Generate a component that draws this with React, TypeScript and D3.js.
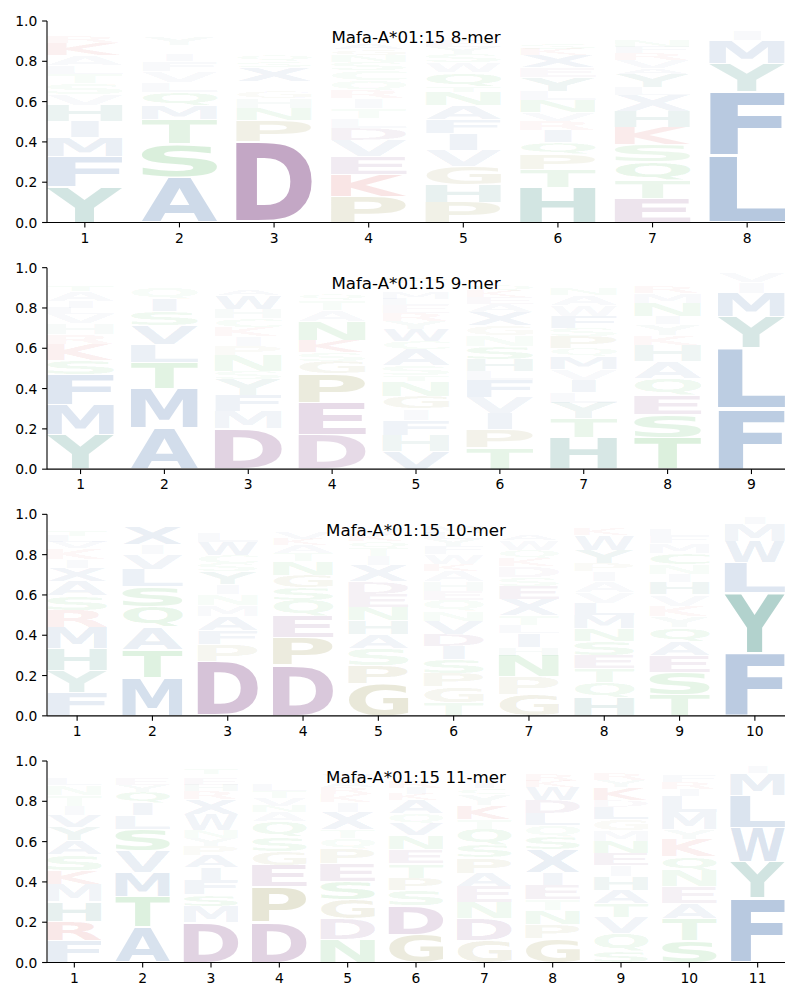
import React, { useMemo } from 'react';
import * as d3 from 'd3';

type Column = [string, number][];

// letter probabilities per position, stacked bottom -> top
const mer8: Column[] = [
  [['Y', 0.178], ['F', 0.15], ['M', 0.095], ['I', 0.08], ['H', 0.08], ['V', 0.055], ['S', 0.055], ['T', 0.045], ['L', 0.04], ['A', 0.05], ['K', 0.06], ['R', 0.03], ['W', 0.025], ['E', 0.02], ['Q', 0.02], ['C', 0.015]],
  [['A', 0.225], ['S', 0.165], ['T', 0.12], ['M', 0.07], ['Q', 0.065], ['L', 0.05], ['V', 0.055], ['F', 0.05], ['I', 0.03], ['E', 0.025], ['N', 0.025], ['Y', 0.04], ['G', 0.02], ['K', 0.02], ['W', 0.02], ['C', 0.015]],
  [['D', 0.4], ['P', 0.105], ['N', 0.06], ['H', 0.05], ['G', 0.035], ['E', 0.025], ['K', 0.025], ['X', 0.07], ['S', 0.03], ['Q', 0.03], ['A', 0.025], ['V', 0.025], ['T', 0.025], ['Y', 0.025], ['W', 0.02], ['C', 0.02], ['F', 0.015], ['M', 0.015]],
  [['P', 0.13], ['K', 0.11], ['E', 0.09], ['V', 0.08], ['D', 0.06], ['L', 0.045], ['T', 0.05], ['I', 0.05], ['R', 0.04], ['Q', 0.05], ['C', 0.05], ['S', 0.04], ['N', 0.035], ['G', 0.03], ['A', 0.03], ['H', 0.025], ['Y', 0.02], ['W', 0.015], ['M', 0.02], ['F', 0.015]],
  [['P', 0.1], ['H', 0.09], ['G', 0.09], ['V', 0.08], ['I', 0.08], ['F', 0.07], ['A', 0.07], ['N', 0.065], ['T', 0.03], ['Q', 0.07], ['W', 0.05], ['S', 0.04], ['Y', 0.035], ['E', 0.03], ['K', 0.025], ['D', 0.025], ['L', 0.02], ['M', 0.02]],
  [['H', 0.175], ['T', 0.09], ['P', 0.075], ['Q', 0.06], ['I', 0.06], ['R', 0.045], ['V', 0.04], ['N', 0.06], ['L', 0.045], ['Y', 0.07], ['E', 0.05], ['X', 0.06], ['K', 0.03], ['S', 0.03], ['A', 0.025], ['W', 0.02], ['M', 0.02], ['G', 0.02], ['F', 0.015]],
  [['E', 0.12], ['T', 0.09], ['Q', 0.09], ['S', 0.085], ['K', 0.085], ['H', 0.08], ['X', 0.08], ['L', 0.04], ['Y', 0.065], ['A', 0.03], ['V', 0.04], ['R', 0.035], ['F', 0.03], ['N', 0.03], ['D', 0.025], ['M', 0.025], ['G', 0.02], ['W', 0.015]],
  [['L', 0.33], ['F', 0.32], ['Y', 0.14], ['M', 0.115], ['I', 0.05], ['W', 0.025], ['V', 0.015]],
];

const mer9: Column[] = [
  [['Y', 0.17], ['M', 0.15], ['F', 0.15], ['S', 0.07], ['K', 0.08], ['R', 0.05], ['H', 0.055], ['V', 0.045], ['L', 0.03], ['I', 0.035], ['A', 0.05], ['T', 0.03], ['W', 0.025], ['Q', 0.02], ['E', 0.02], ['N', 0.015]],
  [['A', 0.205], ['M', 0.195], ['T', 0.13], ['L', 0.09], ['V', 0.095], ['S', 0.07], ['I', 0.06], ['Q', 0.055], ['F', 0.025], ['Y', 0.02], ['E', 0.02], ['K', 0.015], ['R', 0.015]],
  [['D', 0.2], ['M', 0.085], ['F', 0.08], ['Y', 0.08], ['S', 0.04], ['N', 0.08], ['P', 0.045], ['I', 0.05], ['K', 0.045], ['C', 0.045], ['H', 0.045], ['W', 0.07], ['A', 0.03], ['E', 0.025], ['T', 0.025], ['L', 0.02], ['V', 0.02], ['G', 0.015]],
  [['D', 0.17], ['E', 0.16], ['P', 0.145], ['G', 0.06], ['S', 0.045], ['K', 0.06], ['N', 0.095], ['A', 0.055], ['T', 0.05], ['Q', 0.03], ['R', 0.025], ['V', 0.025], ['H', 0.02], ['L', 0.02], ['Y', 0.015], ['M', 0.015]],
  [['V', 0.09], ['H', 0.08], ['F', 0.075], ['I', 0.055], ['G', 0.06], ['N', 0.075], ['T', 0.03], ['S', 0.05], ['A', 0.08], ['C', 0.04], ['W', 0.06], ['Y', 0.04], ['R', 0.04], ['E', 0.04], ['L', 0.03], ['M', 0.03], ['Q', 0.025], ['D', 0.025], ['P', 0.03], ['K', 0.025]],
  [['T', 0.105], ['P', 0.09], ['I', 0.08], ['V', 0.08], ['F', 0.085], ['L', 0.045], ['H', 0.06], ['S', 0.063], ['N', 0.055], ['G', 0.05], ['X', 0.066], ['A', 0.04], ['E', 0.035], ['K', 0.03], ['Q', 0.03], ['Y', 0.025], ['R', 0.02], ['M', 0.02], ['W', 0.015]],
  [['H', 0.155], ['T', 0.095], ['Y', 0.078], ['L', 0.055], ['I', 0.06], ['V', 0.055], ['M', 0.06], ['Q', 0.04], ['P', 0.06], ['S', 0.04], ['F', 0.06], ['W', 0.055], ['A', 0.05], ['N', 0.03], ['E', 0.025], ['K', 0.025], ['R', 0.015], ['G', 0.015], ['C', 0.02]],
  [['T', 0.155], ['S', 0.115], ['E', 0.095], ['Q', 0.085], ['A', 0.085], ['H', 0.08], ['K', 0.05], ['Y', 0.055], ['I', 0.04], ['N', 0.065], ['M', 0.05], ['R', 0.03], ['W', 0.025], ['V', 0.025], ['L', 0.02], ['F', 0.02]],
  [['F', 0.3], ['L', 0.3], ['Y', 0.155], ['M', 0.12], ['I', 0.055], ['V', 0.045]],
];

const mer10: Column[] = [
  [['F', 0.115], ['Y', 0.11], ['H', 0.11], ['M', 0.105], ['R', 0.085], ['S', 0.07], ['A', 0.072], ['X', 0.068], ['I', 0.04], ['K', 0.055], ['V', 0.03], ['L', 0.03], ['T', 0.03], ['N', 0.025], ['Q', 0.02], ['E', 0.02], ['W', 0.015]],
  [['M', 0.19], ['T', 0.14], ['A', 0.11], ['Q', 0.1], ['S', 0.1], ['L', 0.085], ['V', 0.075], ['I', 0.05], ['X', 0.09], ['E', 0.02], ['R', 0.015], ['K', 0.015]],
  [['D', 0.27], ['P', 0.085], ['F', 0.07], ['A', 0.07], ['M', 0.055], ['N', 0.055], ['I', 0.05], ['Y', 0.06], ['S', 0.04], ['C', 0.04], ['W', 0.065], ['L', 0.05], ['E', 0.025], ['K', 0.02], ['G', 0.02], ['T', 0.015]],
  [['D', 0.25], ['P', 0.14], ['E', 0.105], ['Q', 0.08], ['S', 0.06], ['G', 0.06], ['N', 0.07], ['T', 0.04], ['A', 0.04], ['K', 0.03], ['V', 0.03], ['H', 0.025], ['R', 0.02], ['L', 0.02], ['Y', 0.015], ['M', 0.015]],
  [['G', 0.16], ['P', 0.09], ['S', 0.085], ['A', 0.07], ['H', 0.07], ['N', 0.065], ['E', 0.065], ['D', 0.063], ['X', 0.08], ['I', 0.045], ['T', 0.04], ['Q', 0.035], ['K', 0.03], ['V', 0.03], ['L', 0.025], ['R', 0.02], ['F', 0.02]],
  [['T', 0.065], ['G', 0.08], ['P', 0.065], ['S', 0.07], ['I', 0.065], ['D', 0.06], ['V', 0.065], ['N', 0.05], ['Q', 0.055], ['E', 0.045], ['H', 0.045], ['A', 0.053], ['K', 0.035], ['W', 0.05], ['F', 0.04], ['Y', 0.035], ['L', 0.03], ['M', 0.03], ['R', 0.025], ['C', 0.02], ['X', 0.015]],
  [['G', 0.105], ['P', 0.088], ['N', 0.105], ['H', 0.04], ['I', 0.07], ['L', 0.04], ['T', 0.05], ['X', 0.08], ['E', 0.065], ['S', 0.045], ['D', 0.055], ['K', 0.04], ['Q', 0.04], ['W', 0.05], ['A', 0.03], ['V', 0.025], ['Y', 0.02], ['R', 0.02], ['F', 0.015], ['M', 0.015]],
  [['H', 0.09], ['Q', 0.075], ['T', 0.07], ['E', 0.065], ['S', 0.07], ['N', 0.062], ['M', 0.067], ['L', 0.06], ['V', 0.055], ['A', 0.055], ['I', 0.047], ['P', 0.04], ['Y', 0.065], ['W', 0.075], ['K', 0.035], ['R', 0.025], ['F', 0.02], ['G', 0.02]],
  [['T', 0.105], ['S', 0.11], ['E', 0.083], ['A', 0.07], ['Q', 0.07], ['Y', 0.055], ['K', 0.053], ['V', 0.055], ['H', 0.06], ['I', 0.04], ['N', 0.05], ['C', 0.058], ['M', 0.05], ['F', 0.035], ['L', 0.03], ['R', 0.025], ['W', 0.02], ['G', 0.02], ['D', 0.015]],
  [['F', 0.31], ['Y', 0.3], ['L', 0.15], ['W', 0.105], ['M', 0.085], ['I', 0.03]],
];

const mer11: Column[] = [
  [['F', 0.11], ['R', 0.095], ['H', 0.097], ['M', 0.086], ['K', 0.07], ['S', 0.08], ['A', 0.07], ['Y', 0.064], ['V', 0.058], ['I', 0.045], ['T', 0.055], ['N', 0.05], ['L', 0.03], ['Q', 0.025], ['E', 0.02], ['G', 0.02], ['C', 0.015]],
  [['A', 0.175], ['T', 0.15], ['M', 0.12], ['V', 0.108], ['S', 0.108], ['L', 0.07], ['I', 0.058], ['Q', 0.058], ['Y', 0.035], ['E', 0.03], ['R', 0.025], ['K', 0.025], ['N', 0.02], ['F', 0.02]],
  [['D', 0.2], ['M', 0.08], ['S', 0.057], ['F', 0.073], ['I', 0.06], ['A', 0.06], ['P', 0.046], ['Y', 0.042], ['N', 0.037], ['W', 0.08], ['X', 0.075], ['R', 0.04], ['H', 0.03], ['E', 0.03], ['K', 0.025], ['T', 0.03], ['Q', 0.025]],
  [['D', 0.2], ['P', 0.175], ['E', 0.108], ['G', 0.068], ['S', 0.07], ['Q', 0.078], ['A', 0.045], ['N', 0.033], ['V', 0.04], ['T', 0.035], ['L', 0.03], ['K', 0.025], ['H', 0.025], ['Y', 0.02], ['R', 0.02], ['M', 0.015]],
  [['N', 0.113], ['D', 0.103], ['G', 0.095], ['S', 0.09], ['E', 0.088], ['P', 0.075], ['Q', 0.053], ['T', 0.043], ['X', 0.088], ['I', 0.05], ['K', 0.04], ['R', 0.03], ['A', 0.03], ['V', 0.03], ['L', 0.025], ['H', 0.02], ['F', 0.015]],
  [['G', 0.14], ['D', 0.14], ['S', 0.08], ['P', 0.06], ['T', 0.07], ['E', 0.07], ['N', 0.07], ['V', 0.06], ['Q', 0.05], ['A', 0.065], ['K', 0.03], ['I', 0.03], ['R', 0.03], ['L', 0.02], ['Y', 0.02], ['M', 0.02], ['W', 0.015]],
  [['G', 0.11], ['D', 0.11], ['N', 0.078], ['E', 0.078], ['A', 0.066], ['P', 0.078], ['S', 0.063], ['Q', 0.08], ['T', 0.046], ['K', 0.07], ['Y', 0.055], ['C', 0.03], ['I', 0.03], ['H', 0.025], ['V', 0.025], ['L', 0.02], ['R', 0.02], ['F', 0.015]],
  [['G', 0.12], ['P', 0.07], ['N', 0.07], ['T', 0.053], ['E', 0.071], ['I', 0.063], ['X', 0.115], ['S', 0.063], ['Q', 0.055], ['L', 0.06], ['D', 0.065], ['W', 0.065], ['K', 0.03], ['R', 0.03], ['Y', 0.025], ['A', 0.02], ['H', 0.015]],
  [['S', 0.058], ['Q', 0.088], ['V', 0.078], ['T', 0.07], ['A', 0.066], ['H', 0.066], ['I', 0.056], ['E', 0.061], ['N', 0.058], ['M', 0.055], ['G', 0.053], ['L', 0.063], ['D', 0.033], ['K', 0.063], ['Y', 0.035], ['R', 0.03], ['P', 0.025], ['F', 0.02], ['W', 0.015]],
  [['S', 0.108], ['T', 0.108], ['A', 0.078], ['E', 0.083], ['N', 0.078], ['Q', 0.07], ['K', 0.088], ['Y', 0.046], ['M', 0.085], ['L', 0.08], ['I', 0.035], ['R', 0.035], ['F', 0.03], ['W', 0.025], ['H', 0.025], ['D', 0.02]],
  [['F', 0.32], ['Y', 0.18], ['W', 0.17], ['L', 0.16], ['M', 0.11], ['I', 0.03]],
];

const titles = ['Mafa-A*01:15 8-mer', 'Mafa-A*01:15 9-mer', 'Mafa-A*01:15 10-mer', 'Mafa-A*01:15 11-mer'];
const panels = [mer8, mer9, mer10, mer11];
const yTicks = [0, 0.2, 0.4, 0.6, 0.8, 1.0];

const colorGroups: [string, string][] = [
  ['DE', '#69226e'],
  ['KR', '#c81414'],
  ['AVLIMFWX', '#22589e'],
  ['YH', '#00695a'],
  ['STNQC', '#1ea028'],
  ['PG', '#787314'],
];
const colorOf = (ch: string) => (colorGroups.find(g => g[0].includes(ch)) || ['', '#888'])[1];

const FONT = '"DejaVu Sans", Verdana, sans-serif';
const AX_LEFT = 47, AX_RIGHT = 785;
const AX_TOP0 = 21, AX_STEP = 246.67, AX_H = 201.5;
const VPAD = 0.05;

type Box = { l: number; r: number; a: number; d: number };

function measureGlyphs(): Record<string, Box> {
  const ctx = document.createElement('canvas').getContext('2d')!;
  ctx.font = `bold 100px ${FONT}`;
  const out: Record<string, Box> = {};
  for (const ch of 'ACDEFGHIKLMNPQRSTVWXY') {
    const m = ctx.measureText(ch);
    out[ch] = { l: m.actualBoundingBoxLeft, r: m.actualBoundingBoxRight, a: m.actualBoundingBoxAscent, d: m.actualBoundingBoxDescent };
  }
  return out;
}

function Panel({ cols, title, top, glyphs }: { cols: Column[]; title: string; top: number; glyphs: Record<string, Box> }) {
  const n = cols.length;
  const x = d3.scaleLinear().domain([0.6, n + 0.4]).range([AX_LEFT, AX_RIGHT]);
  const y = d3.scaleLinear().domain([0, 1]).range([top + AX_H, top]);
  const bottom = top + AX_H;
  const eBox = glyphs['E'];
  const eW = eBox.l + eBox.r;

  const letters: React.ReactNode[] = [];
  cols.forEach((col, i) => {
    const pos = i + 1;
    const w = x(pos + 0.4) - x(pos - 0.4);
    let floor = 0;
    col.forEach(([ch, v], k) => {
      const y0 = floor + (v * VPAD) / 2;
      const y1 = floor + v - (v * VPAD) / 2;
      floor += v;
      const g = glyphs[ch];
      const gw = g.l + g.r, gh = g.a + g.d;
      const sx = Math.min(w / gw, w / eW);
      const dw = gw * sx;
      const pxTop = y(y1);
      const ph = y(y0) - y(y1);
      const sy = ph / gh;
      const x0 = x(pos) - dw / 2;
      letters.push(
        <text
          key={`${i}-${k}`}
          x={0}
          y={0}
          fontFamily={FONT}
          fontWeight="bold"
          fontSize={100}
          fill={colorOf(ch)}
          fillOpacity={v}
          transform={`translate(${x0 + g.l * sx},${pxTop + g.a * sy}) scale(${sx},${sy})`}
        >
          {ch}
        </text>
      );
    });
  });

  return (
    <g>
      <clipPath id={`clip-${top}`}>
        <rect x={AX_LEFT} y={top} width={AX_RIGHT - AX_LEFT} height={AX_H} />
      </clipPath>
      <g clipPath={`url(#clip-${top})`}>{letters}</g>
      <text x={(AX_LEFT + AX_RIGHT) / 2} y={top + 21.5} textAnchor="middle" fontFamily={FONT} fontSize={16.67} fill="#000">
        {title}
      </text>
      <line x1={AX_LEFT} x2={AX_LEFT} y1={top} y2={bottom} stroke="#000" strokeWidth={1.1} />
      <line x1={AX_LEFT} x2={AX_RIGHT} y1={bottom} y2={bottom} stroke="#000" strokeWidth={1.1} />
      {yTicks.map(t => (
        <g key={`y${t}`}>
          <line x1={AX_LEFT - 4.9} x2={AX_LEFT} y1={y(t)} y2={y(t)} stroke="#000" strokeWidth={1.1} />
          <text x={AX_LEFT - 9.7} y={y(t)} dy="0.36em" textAnchor="end" fontFamily={FONT} fontSize={13.89} fill="#000">
            {t.toFixed(1)}
          </text>
        </g>
      ))}
      {d3.range(1, n + 1).map(p => (
        <g key={`x${p}`}>
          <line x1={x(p)} x2={x(p)} y1={bottom} y2={bottom + 4.9} stroke="#000" strokeWidth={1.1} />
          <text x={x(p)} y={bottom + 20.2} textAnchor="middle" fontFamily={FONT} fontSize={13.89} fill="#000">
            {p}
          </text>
        </g>
      ))}
    </g>
  );
}

export default function App() {
  const glyphs = useMemo(measureGlyphs, []);
  return (
    <svg width={800} height={1000} style={{ position: 'absolute', left: 0, top: 0, background: '#fff' }}>
      <rect width={800} height={1000} fill="#fff" />
      {panels.map((cols, i) => (
        <Panel key={i} cols={cols} title={titles[i]} top={AX_TOP0 + i * AX_STEP} glyphs={glyphs} />
      ))}
    </svg>
  );
}
